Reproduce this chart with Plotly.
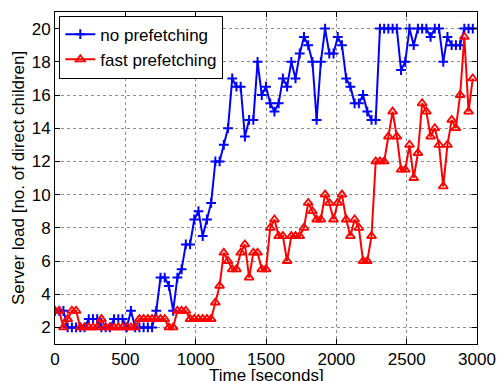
import plotly.graph_objects as go

# Time axis: samples every 30 seconds
time_s = [30 * k for k in range(100)]

no_prefetching = [
    3, 3, 3, 2, 2, 2, 2, 2, 2.5, 2.5,
    2.5, 2, 2, 2, 2.5, 2.5, 2.5, 2, 3, 2,
    2, 2, 2, 2, 3, 5, 5, 4.5, 3, 5,
    5.5, 7, 7, 8.5, 9, 7.5, 8.5, 9.5, 12, 12,
    13, 14, 17, 16.5, 16.5, 13.5, 14.5, 14.5, 18, 16,
    16.5, 15.5, 15, 15.5, 17, 16.5, 18, 17, 18.5, 19.5,
    19, 18, 14.5, 18, 20, 18.5, 18.5, 19.5, 19, 17,
    16.5, 15.5, 15.5, 16, 15, 14.5, 14.5, 20, 20, 20,
    20, 20, 17.5, 18, 20, 19, 20, 20, 20, 19.5,
    20, 20, 18, 19.5, 19, 19, 19, 20, 20, 20,
]

fast_prefetching = [
    3, 3, 2, 2.5, 3, 3, 2, 2, 2, 2,
    2, 2.5, 2, 2, 2, 2, 2, 2, 2, 2,
    2.5, 2.5, 2.5, 2.5, 2.5, 2.5, 2.5, 2, 2, 3,
    3, 3, 2.5, 2.5, 2.5, 2.5, 2.5, 2.5, 3.5, 4.5,
    6.5, 6, 5.5, 5.5, 6.5, 7, 5, 6.5, 6.5, 5.5,
    5.5, 8, 8.5, 7.5, 7.5, 6, 7.5, 7.5, 7.5, 8,
    9.5, 9, 8.5, 8.5, 10, 9.5, 8.5, 9.5, 10, 8.5,
    7.5, 8.5, 8, 6, 6, 7.5, 12, 12, 12, 13.5,
    15, 13.5, 11.5, 11.5, 13, 11, 12.5, 15.5, 15, 13.5,
    14, 13, 10.5, 13, 14.5, 14, 16, 19.5, 15, 17,
]

x_ticks = [0, 500, 1000, 1500, 2000, 2500, 3000]
y_ticks = [2, 4, 6, 8, 10, 12, 14, 16, 18, 20]

FONT = "Liberation Sans, Arial, Helvetica, sans-serif"

fig = go.Figure()
fig.add_trace(go.Scatter(
    x=time_s, y=no_prefetching, mode="lines+markers", name="no prefetching",
    line=dict(color="#0000FF", width=2),
    marker=dict(symbol="cross-thin", size=7, color="#0000FF",
                line=dict(color="#0000FF", width=2)),
))
fig.add_trace(go.Scatter(
    x=time_s, y=fast_prefetching, mode="lines+markers", name="fast prefetching",
    line=dict(color="#FF0000", width=2),
    marker=dict(symbol="triangle-up-open", size=8, color="#FF0000",
                line=dict(color="#FF0000", width=1.8)),
))

axis_common = dict(
    showline=True, linecolor="black", linewidth=1, mirror="ticks",
    ticks="inside", ticklen=5, tickcolor="black", tickwidth=1,
    showgrid=True, gridcolor="#8c8c8c", gridwidth=1, griddash="dot",
    zeroline=False, automargin=False,
    tickfont=dict(family=FONT, size=17, color="black"),
)

fig.update_xaxes(range=[0, 3000], tickvals=x_ticks,
                 ticktext=[str(v) for v in x_ticks], **axis_common)
fig.update_yaxes(range=[1, 21], tickvals=y_ticks,
                 ticktext=[str(v) for v in y_ticks], **axis_common)

fig.add_annotation(text="Time [seconds]", xref="paper", yref="paper",
                   x=0.5, y=0, yshift=-31, xanchor="center", yanchor="middle",
                   showarrow=False, font=dict(family=FONT, size=17, color="black"))
fig.add_annotation(text="Server load [no. of direct children]", xref="paper", yref="paper",
                   x=0, y=0.5, xshift=-37, xanchor="center", yanchor="middle",
                   textangle=-90, showarrow=False,
                   font=dict(family=FONT, size=17, color="black"))

fig.update_layout(
    width=497, height=381,
    margin=dict(l=55, r=20, t=12, b=37),
    paper_bgcolor="white", plot_bgcolor="white",
    showlegend=True,
    legend=dict(x=0.0102, y=0.989, xanchor="left", yanchor="top",
                bgcolor="white", bordercolor="black", borderwidth=1,
                font=dict(family=FONT, size=17, color="black"),
                tracegroupgap=0, itemwidth=30),
    font=dict(family=FONT, size=17, color="black"),
)

fig.write_html("out.html")
